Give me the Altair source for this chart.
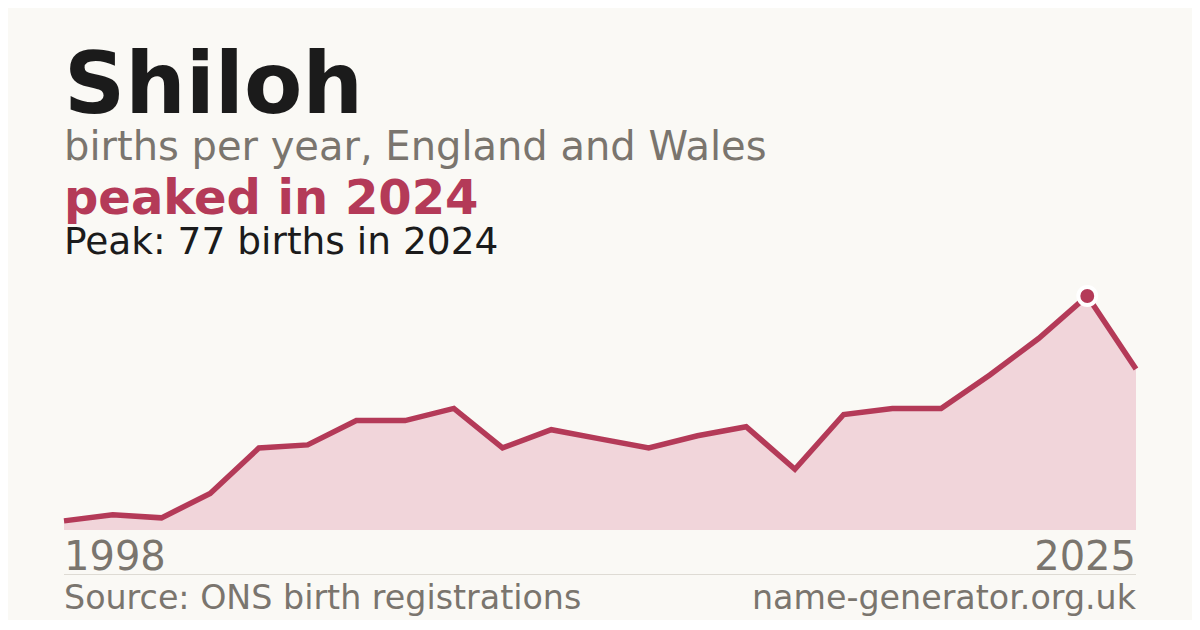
import altair as alt
import pandas as pd

# ---- data ----
years = [1998, 2001, 2003, 2006, 2007, 2008, 2009, 2010, 2011, 2012, 2013, 2014,
         2015, 2016, 2017, 2018, 2019, 2020, 2021, 2022, 2023, 2024, 2025]
births = [3, 5, 4, 12, 27, 28, 36, 36, 40, 27, 33, 30,
          27, 31, 34, 20, 38, 40, 40, 51, 63, 77, 53]

name = "Shiloh"
subtitle = "births per year, England and Wales"
headline = "peaked in 2024"
peak_note = "Peak: 77 births in 2024"
source_note = "Source: ONS birth registrations"
site_note = "name-generator.org.uk"

FONT = "DejaVu Sans"
LINE_C = "#b43a58"
AREA_C = "#f1d5da"
GRAY = "#7a756e"
DARK = "#1b1b1b"
BG = "#faf9f5"

W, H = 1072, 234

df = pd.DataFrame({"year": [str(y) for y in years], "births": births,
                   "idx": list(range(len(years)))})
one = pd.DataFrame({"a": [0]})

x = alt.X("idx:Q", scale=alt.Scale(domain=[0, len(years) - 1], nice=False, zero=False), axis=None)
y = alt.Y("births:Q", scale=alt.Scale(domain=[0, max(births)], nice=False), axis=None)

base = alt.Chart(df)
area = base.mark_area(color=AREA_C).encode(x=x, y=y)
line = base.mark_line(color=LINE_C, strokeWidth=5.5, strokeJoin="miter").encode(x=x, y=y)
peak = base.transform_filter(alt.datum.births == max(births)).mark_circle(
    size=320, fill=LINE_C, stroke="white", strokeWidth=4, opacity=1
).encode(x=x, y=y)

first_lbl = base.transform_filter(alt.datum.idx == 0).mark_text(
    align="left", baseline="alphabetic", font=FONT, fontSize=40, color=GRAY
).encode(x=x, y=alt.value(274), text="year:N")
last_lbl = base.transform_filter(alt.datum.idx == len(years) - 1).mark_text(
    align="right", baseline="alphabetic", font=FONT, fontSize=40, color=GRAY
).encode(x=x, y=alt.value(274), text="year:N")


def txt(s, ypos, size, color, weight="normal", align="left", xpos=0):
    return alt.Chart(pd.DataFrame({"t": [s]})).mark_text(
        align=align, baseline="alphabetic", font=FONT, fontSize=size,
        fontWeight=weight, color=color
    ).encode(x=alt.value(xpos), y=alt.value(ypos), text="t:N")


title_t = txt(name, -183, 85, DARK, "bold")
sub_t = txt(subtitle, -136, 40, GRAY)
head_t = txt(headline, -82, 48, LINE_C, "bold")
peak_t = txt(peak_note, -42, 37.5, DARK)
src_t = txt(source_note, 313, 33.3, GRAY)
site_t = txt(site_note, 313, 33.3, GRAY, align="right", xpos=W)

divider = alt.Chart(one).mark_rule(color="#dedbd4", strokeWidth=1).encode(
    x=alt.value(0), x2=alt.value(W), y=alt.value(278.5)
)

chart = alt.layer(
    area, line, peak, first_lbl, last_lbl, divider,
    title_t, sub_t, head_t, peak_t, src_t, site_t
).properties(
    width=W, height=H,
    autosize=alt.AutoSizeParams(type="none"),
    padding={"left": 56, "top": 288, "right": 56, "bottom": 90},
    background=BG,
).configure_view(stroke=None)

chart.save("out.html", embed_options={"renderer": "svg", "actions": False})
